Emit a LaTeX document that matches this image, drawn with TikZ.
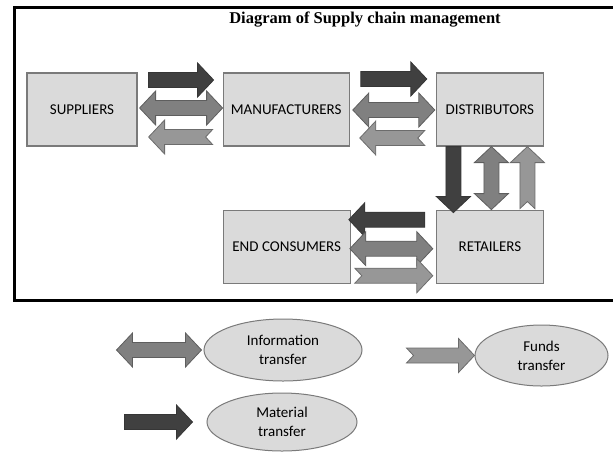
\documentclass[tikz,border=0pt]{standalone}
\usepackage{fontspec}
\setmainfont{Carlito}
\newfontfamily\titlefont{Liberation Serif}
\usetikzlibrary{calc,positioning,shapes.geometric}

\definecolor{boxfill}{HTML}{DADADA}
\definecolor{boxline}{HTML}{7A7A7A}
\definecolor{matfill}{HTML}{404040}
\definecolor{matline}{HTML}{363636}
\definecolor{infofill}{HTML}{808080}
\definecolor{infoline}{HTML}{5E5E5E}
\definecolor{fundfill}{HTML}{979797}
\definecolor{fundline}{HTML}{6C6C6C}

% point at distance #1 along the arrow and #2 across it
\newcommand\arpt[2]{({\x1+(#1)*\n2-(#2)*\n3},{\y1+(#1)*\n3+(#2)*\n2})}

\tikzset{
  stage/.style={draw=boxline, fill=boxfill, line width=1.2pt, minimum height=73,
    font=\fontsize{15}{18}\selectfont},
  legend/.style={ellipse, draw=boxline, fill=boxfill, line width=1pt, inner sep=0pt,
    align=center, font=\fontsize{15}{19}\selectfont},
  matflow/.style={draw=matline, fill=matfill, line width=0.8pt, to path={
    let \p1=(\tikztostart), \p2=(\tikztotarget), \n1={veclen(\x2-\x1,\y2-\y1)},
        \n2={(\x2-\x1)/\n1}, \n3={(\y2-\y1)/\n1} in
    \arpt{0}{-7.5} -- \arpt{\n1-16}{-7.5} -- \arpt{\n1-16}{-17} -- \arpt{\n1}{0}
    -- \arpt{\n1-16}{17} -- \arpt{\n1-16}{7.5} -- \arpt{0}{7.5} -- cycle}},
  infoflow/.style={draw=infoline, fill=infofill, line width=0.8pt, to path={
    let \p1=(\tikztostart), \p2=(\tikztotarget), \n1={veclen(\x2-\x1,\y2-\y1)},
        \n2={(\x2-\x1)/\n1}, \n3={(\y2-\y1)/\n1} in
    \arpt{0}{0} -- \arpt{16}{-17} -- \arpt{16}{-7.5} -- \arpt{\n1-16}{-7.5}
    -- \arpt{\n1-16}{-17} -- \arpt{\n1}{0} -- \arpt{\n1-16}{17} -- \arpt{\n1-16}{7.5}
    -- \arpt{16}{7.5} -- \arpt{16}{17} -- cycle}},
  fundsflow/.style={draw=fundline, fill=fundfill, line width=0.8pt, to path={
    let \p1=(\tikztostart), \p2=(\tikztotarget), \n1={veclen(\x2-\x1,\y2-\y1)},
        \n2={(\x2-\x1)/\n1}, \n3={(\y2-\y1)/\n1} in
    \arpt{0}{-7.5} -- \arpt{\n1-16}{-7.5} -- \arpt{\n1-16}{-17} -- \arpt{\n1}{0}
    -- \arpt{\n1-16}{17} -- \arpt{\n1-16}{7.5} -- \arpt{0}{7.5} -- \arpt{7}{0} -- cycle}}
}

\begin{document}
\begin{tikzpicture}[x=1pt,y=-1pt]
  \useasboundingbox (0,0) rectangle (613,451);
  \draw[line width=3pt] (14,7) rectangle (640,300);
  \node[font={\titlefont\bfseries\fontsize{16.5}{20}\selectfont}, anchor=base] (title) at (365,23) {Diagram of Supply chain management};

  \node[stage, minimum width=110] (sup) at (82,109.5) {SUPPLIERS};
  \node[stage, minimum width=126, right=85pt of sup] (man) {MANUFACTURERS};
  \node[stage, minimum width=107, right=86pt of man] (dist) {DISTRIBUTORS};
  \node[stage, minimum width=107, below=63pt of dist] (ret) {RETAILERS};
  \node[stage, minimum width=127, left=85pt of ret] (cons) {END CONSUMERS};

  \draw[matflow] ([xshift=11,yshift=29.5]sup.east) to ([xshift=-9,yshift=29.5]man.west);
  \draw[infoflow] ([xshift=2,yshift=1.5]sup.east) to ([yshift=1.5]man.west);
  \draw[fundsflow] ([xshift=-10,yshift=-27.5]man.west) to ([xshift=11,yshift=-27.5]sup.east);

  \draw[matflow] ([xshift=11,yshift=30.5]man.east) to ([xshift=-9,yshift=30.5]dist.west);
  \draw[infoflow] ([xshift=3,yshift=-0.5]man.east) to ([xshift=-1,yshift=-0.5]dist.west);
  \draw[fundsflow] ([xshift=-11,yshift=-28.5]dist.west) to ([xshift=10,yshift=-28.5]man.east);

  \draw[matflow] ([xshift=-36.5]dist.south) to ([xshift=-36.5,yshift=-3]ret.north);
  \draw[infoflow] ([xshift=1.5]dist.south) to ([xshift=1.5]ret.north);
  \draw[fundsflow] ([xshift=37.5,yshift=1]ret.north) to ([xshift=37.5]dist.south);

  \draw[matflow] ([xshift=-11,yshift=27]ret.west) to ([xshift=-2,yshift=27]cons.east);
  \draw[infoflow] ([xshift=-1,yshift=-2]cons.east) to ([xshift=-3,yshift=-2]ret.west);
  \draw[fundsflow] ([xshift=4,yshift=-29]cons.east) to ([xshift=-3,yshift=-29]ret.west);

  \node[legend, minimum width=158, minimum height=62] (infol) at (283,350) {Information\\transfer};
  \node[legend, minimum width=133, minimum height=61] (fundl) at (541.5,355.5) {Funds\\transfer};
  \node[legend, minimum width=150, minimum height=58] (matl) at (282,422) {Material\\transfer};
  \draw[infoflow] ([xshift=-87]infol.west) to ([xshift=-2]infol.west);
  \draw[fundsflow] ([xshift=-68]fundl.west) to (fundl.west);
  \draw[matflow] ([xshift=-82]matl.west) to ([xshift=-14]matl.west);
\end{tikzpicture}
\end{document}
